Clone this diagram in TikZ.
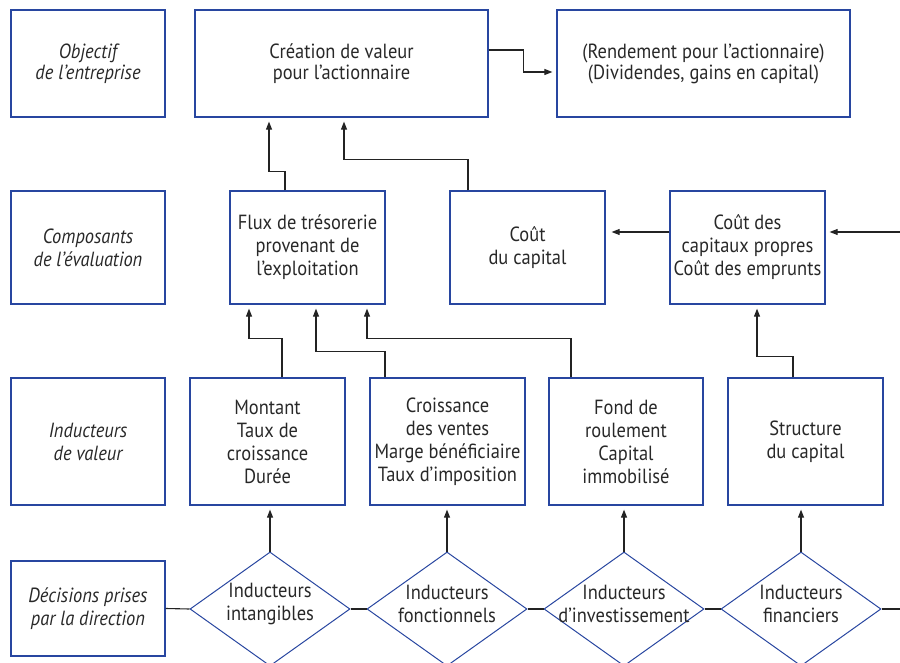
\documentclass[tikz,border=0pt]{standalone}
\usepackage{fontspec}
\setmainfont[FakeStretch=0.9]{PT Sans}
\usetikzlibrary{arrows.meta,shapes.geometric,calc}
\definecolor{bl}{RGB}{40,70,160}
\definecolor{ln}{RGB}{35,35,35}
\definecolor{tx}{RGB}{40,40,40}
\begin{document}
\begin{tikzpicture}[x=1pt,y=-1pt,
 box/.style={draw=bl,line width=1.3pt,inner sep=0pt,align=center,text=tx,font=\fontsize{20.5}{23}\selectfont},
 boxa/.style={box,font=\fontsize{20.5}{21}\selectfont},
 lab/.style={box,font=\fontsize{20.5}{23}\selectfont\itshape},
 laba/.style={box,font=\fontsize{20.5}{21}\selectfont\itshape},
 dia/.style={draw=bl,line width=1pt,diamond,inner sep=0pt,minimum width=160pt,minimum height=114pt},
 dtext/.style={align=center,text=tx,inner sep=0pt,font=\fontsize{20.5}{23}\selectfont},
 arr/.style={draw=ln,line width=1.1pt,-{Triangle[length=8pt,width=6pt]},shorten >=4pt},
 con/.style={draw=ln,line width=1.1pt}]
\useasboundingbox (0,0) rectangle (900,663);
% row 1
\node[laba,minimum width=154pt,minimum height=107pt] (l1) at (88,63.5) {Objectif\\de l’entreprise};
\node[boxa,minimum width=293pt,minimum height=107pt] (cv) at (341.5,63.5) {Création de valeur\\pour l’actionnaire};
\node[boxa,minimum width=293pt,minimum height=107pt] (rd) at (703.5,63.5) {(Rendement pour l’actionnaire)\\(Dividendes, gains en capital)};
% row 2
\node[lab,minimum width=154pt,minimum height=113pt] (l2) at (88,247.5) {Composants\\de l’évaluation};
\node[box,minimum width=155pt,minimum height=113pt] (fx) at (307.5,247.5) {Flux de trésorerie\\provenant de\\l’exploitation};
\node[box,minimum width=155pt,minimum height=113pt] (cc) at (527.5,247.5) {Coût\\du capital};
\node[box,minimum width=155pt,minimum height=113pt] (cp) at (747.5,247.5) {Coût des\\capitaux propres\\Coût des emprunts};
% row 3
\node[lab,minimum width=154pt,minimum height=127pt] (l3) at (88,441.5) {Inducteurs\\de valeur};
\node[box,minimum width=155pt,minimum height=127pt] (mt) at (267.5,441.5) {Montant\\Taux de\\croissance\\Durée};
\node[box,minimum width=155pt,minimum height=127pt] (cr) at (447.5,441.5) {Croissance\\des ventes\\Marge bénéficiaire\\Taux d’imposition};
\node[box,minimum width=154pt,minimum height=127pt] (fr) at (626,441.5) {Fond de\\roulement\\Capital\\immobilisé};
\node[box,minimum width=155pt,minimum height=127pt] (sc) at (805.5,441.5) {Structure\\du capital};
% row 4
\node[lab,minimum width=154pt,minimum height=95pt] (l4) at (88,608.5) {Décisions prises\\par la direction};
\node[dia] (d1) at (270,609) {};
\node[dia] (d2) at (447,609) {};
\node[dia] (d3) at (624,609) {};
\node[dia] (d4) at (801,609) {};
\node[dtext] (t1) at ([yshift=5pt]d1.center) {Inducteurs\\intangibles};
\node[dtext] (t2) at ([yshift=5pt]d2.center) {Inducteurs\\fonctionnels};
\node[dtext] (t3) at ([yshift=5pt]d3.center) {Inducteurs\\d’investissement};
\node[dtext] (t4) at ([yshift=5pt]d4.center) {Inducteurs\\financiers};
\coordinate (rin) at (900,232);
\coordinate (rout) at (900,609);
% connectors
\draw[arr] ([yshift=13.5pt]cv.east) -- ++(35,0) |- ([yshift=-8.5pt]rd.west);
\draw[arr] ([xshift=-22.5pt]fx.north) -- ++(0,-19) -| ([xshift=-72.5pt]cv.south);
\draw[arr] ([xshift=-59.5pt]cc.north) -- ++(0,-31) -| ([xshift=2.5pt]cv.south);
\draw[arr,shorten >=6pt] ([yshift=15.5pt]cp.west) -- ([yshift=15.5pt]cc.east);
\draw[arr] (rin) -- ([yshift=15.5pt]cp.east);
\draw[arr] ([xshift=-12.5pt]sc.north) -- ++(0,-21) -| ([xshift=9.5pt]cp.south);
\draw[arr] ([xshift=14.5pt]mt.north) -- ++(0,-39) -| ([xshift=-58.5pt]fx.south);
\draw[arr] ([xshift=-62.5pt]cr.north) -- ++(0,-26) -| ([xshift=8.5pt]fx.south);
\draw[arr] ([xshift=-55pt]fr.north) -- ++(0,-39) -| ([xshift=59.5pt]fx.south);
\draw[arr] (d1.north) -- (d1.north |- mt.south);
\draw[arr] (d2.north) -- (d2.north |- cr.south);
\draw[arr] (d3.north) -- (d3.north |- fr.south);
\draw[arr] (d4.north) -- (d4.north |- sc.south);
\draw[con] (l4.east) -- (d1.west);
\draw[con] (d1.east) -- (d2.west);
\draw[con] (d2.east) -- (d3.west);
\draw[con] (d3.east) -- (d4.west);
\draw[con] (d4.east) -- (rout);
\end{tikzpicture}
\end{document}
